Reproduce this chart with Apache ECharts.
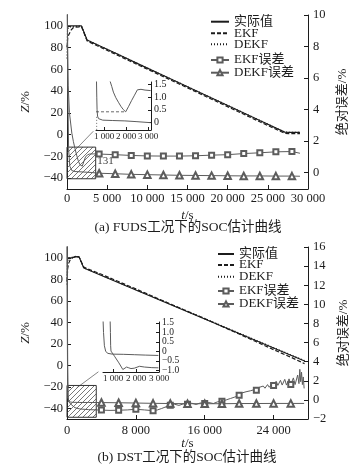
<!DOCTYPE html>
<html><head><meta charset="utf-8">
<script src="https://cdn.jsdelivr.net/npm/echarts@6/dist/echarts.min.js"></script>
<style>html,body{margin:0;padding:0;background:#fff}#c{width:360px;height:471px}</style>
</head><body><div id="c"></div>
<script>
// ===== (a) FUDS =====
const socT_a  = [0, 1800, 2500, 3700, 6000, 9000, 12000, 15000, 18000, 21000, 24000, 27100, 27600, 28300, 29000];
const soc_a   = [100, 100, 87.0, 82.9, 75.0, 64.6, 54.3, 44.0, 33.7, 23.4, 13.0, 2.3, 2.0, 2.1, 2.0];
const ekfT_a  = [0, 100, 300, 500, 800, 1800, 2500, 3700, 6000, 9000, 12000, 15000, 18000, 21000, 24000, 27100, 27600, 28300, 29000];
const ekf_a   = [80, 90, 93, 96, 98.5, 99.3, 86.2, 81.9, 74.0, 63.6, 53.3, 43.0, 32.6, 22.2, 11.8, 1.2, 0.9, 1.0, 0.9];
const dekfT_a = [0, 60, 200, 400, 1800, 2500, 3700, 6000, 9000, 12000, 15000, 18000, 21000, 24000, 27100, 27600, 28300, 29000];
const dekf_a  = [70, 95, 99, 99.8, 99.9, 87.0, 82.9, 75.1, 64.7, 54.4, 44.1, 33.8, 23.5, 13.1, 2.4, 2.1, 2.2, 2.1];
const ekfErrT_a = [0, 60, 150, 300, 600, 800, 1000, 1200, 1400, 1600, 1750, 1900, 2100, 2300, 2550, 2800, 3300, 4000, 6000, 8000, 10000, 12000, 14000, 16000, 18000, 20000, 22000, 24000, 26000, 28000, 29000];
const ekfErr_a  = [14, 9, 5.5, 3.8, 2.5, 1.95, 1.5, 1.1, 0.75, 0.5, 0.38, 0.4, 0.7, 0.98, 1.12, 1.17, 1.18, 1.17, 1.13, 1.08, 1.05, 1.04, 1.04, 1.06, 1.1, 1.13, 1.2, 1.25, 1.31, 1.33, 1.22];
const dekfErrT_a = [0, 80, 200, 350, 600, 1000, 2000, 3000, 4000, 6000, 8000, 10000, 12000, 14000, 16000, 18000, 20000, 22000, 24000, 26000, 28000, 29000];
const dekfErr_a  = [14, 6, 1.5, 0.4, 0.12, 0.06, 0.03, 0.0, -0.05, -0.08, -0.12, -0.14, -0.16, -0.18, -0.19, -0.2, -0.21, -0.22, -0.22, -0.23, -0.23, -0.24];
// inset (a)
const inEkfT_a  = [1252, 1353, 1426, 1536, 1655, 1765, 1875, 1985, 2122, 2250, 2388, 2516, 2681, 2865, 3121];
const inEkf_a   = [1.7, 1.42, 1.2, 0.98, 0.8, 0.64, 0.51, 0.42, 0.64, 0.86, 1.08, 1.29, 1.31, 1.28, 1.26];
const inDekfT_a = [657, 671, 685, 707, 749, 822, 941, 1399, 1949, 2498, 3121];
const inDekf_a  = [1.7, 1.0, 0.5, 0.25, 0.15, 0.1, 0.09, 0.075, 0.06, 0.03, -0.01];
const inGuideHT_a = [636, 1985], inGuideH_a = [0.42, 0.42];
const inGuideVT_a = [666, 666],  inGuideV_a = [0.22, -0.3];
const xTicks_a = [0, 5000, 10000, 15000, 20000, 25000, 30000];
const yTicksL = [-40, -20, 0, 20, 40, 60, 80, 100];
const yTicksR_a = [0, 2, 4, 6, 8, 10];
const inXTicks_a = [1000, 2000, 3000];
const inYTicks_a = [0, 0.5, 1.0, 1.5];
const hatchT_a = [0, 3570], hatchV_a = [1.61, -0.4];
const connT_a = [1370, 3280], connV_a = [1.61, 2.62];
const noteT_a = 3770, noteV_a = 0.72, noteText_a = '131';

// ===== (b) DST =====
const socT_b  = [0, 600, 1000, 1400, 1950, 4000, 8000, 12000, 16000, 20000, 24000, 27600];
const soc_b   = [100, 100, 101, 100.8, 90.4, 83.5, 70.0, 56.5, 43.0, 29.5, 16.0, 3.9];
const ekfT_b  = [0, 80, 200, 400, 700, 1000, 1400, 1950, 4000, 8000, 12000, 16000, 20000, 22000, 24000, 26000, 27600];
const ekf_b   = [78, 90, 95, 98.5, 100.2, 101, 100.8, 91.3, 84.6, 71.0, 57.0, 43.4, 29.0, 21.8, 14.5, 7.5, 1.5];
const dekfT_b = [0, 50, 150, 400, 1000, 1400, 1950, 4000, 8000, 12000, 16000, 20000, 24000, 27600];
const dekf_b  = [75, 95, 99.5, 100.2, 101.2, 101, 90.7, 83.8, 70.3, 56.9, 43.4, 29.9, 16.4, 4.3];
const ekfErrT_b = [0, 40, 80, 120, 200, 500, 930, 1500, 2500, 4000, 5000, 6000, 7000, 8000, 9000, 10000, 10500, 11000, 11500, 12000, 12500, 13000, 13500, 14000, 14500, 15000, 15500, 16000, 16500, 17000, 17500, 18000, 18500, 19000, 19500, 20000, 20300, 20500, 20800, 21000, 21300, 21500, 21800, 22000, 22300, 22500, 22800, 23000, 23300, 23500, 23800, 24000, 24300, 24500, 24800, 25000, 25300, 25500, 25800, 26000, 26300, 26500, 26800, 26950, 27050, 27150, 27250, 27350, 27450, 27550];
const ekfErr_b  = [20, 10, 4, 0.5, -0.2, -0.5, -0.82, -0.95, -1.02, -1.07, -1.1, -1.08, -1.05, -0.98, -1.05, -1.13, -1.05, -0.9, -0.72, -0.55, -0.45, -0.58, -0.42, -0.45, -0.35, -0.48, -0.32, -0.38, -0.28, -0.38, -0.2, -0.13, 0.0, 0.15, 0.3, 0.48, 0.72, 0.55, 0.85, 0.68, 0.95, 0.8, 1.08, 1.0, 1.3, 1.12, 1.45, 1.22, 1.6, 1.32, 1.72, 1.5, 1.95, 1.52, 2.05, 1.55, 2.15, 1.55, 2.2, 1.6, 2.3, 1.6, 2.6, 1.7, 3.2, 1.9, 2.9, 1.6, 2.4, 1.2];
const dekfErrT_b = [0, 30, 70, 120, 250, 600, 1500, 2500, 4000, 6000, 8000, 10000, 12000, 14000, 16000, 18000, 20000, 22000, 24000, 26000, 27550];
const dekfErr_b  = [20, 8, 2, 0.2, -0.2, -0.25, -0.27, -0.27, -0.28, -0.3, -0.33, -0.36, -0.38, -0.4, -0.4, -0.4, -0.38, -0.38, -0.37, -0.37, -0.37];
// inset (b)
const inEkfT_b  = [870, 884, 893, 908, 1061, 1252, 1424, 1501, 1587, 1683, 1778, 1922, 2151, 2371, 2687, 2974];
const inEkf_b   = [1.7, 1.0, 0.3, 0.02, -0.25, -0.6, -0.95, -0.9, -0.82, -0.86, -0.9, -0.88, -0.78, -0.82, -0.85, -0.86];
const inDekfT_b = [562, 583, 621, 678, 774, 965, 1443, 1922, 2400, 2974];
const inDekf_b  = [1.7, 1.0, 0.3, 0.0, -0.1, -0.14, -0.15, -0.17, -0.19, -0.21];
const xTicks_b = [0, 8000, 16000, 24000];
const yTicksR_b = [-2, 0, 2, 4, 6, 8, 10, 12, 14, 16];
const inXTicks_b = [1000, 2000, 3000];
const inYTicks_b = [-1.0, -0.5, 0, 0.5, 1.0, 1.5];
const hatchT_b = [0, 3400], hatchV_b = [1.51, -1.82];
const connT_b = [1130, 3650], connV_b = [1.26, 2.94];

const names = ['实际值', 'EKF', 'DEKF', 'EKF误差', 'DEKF误差'];
const titles = ['(a) FUDS工况下的SOC估计曲线', '(b) DST工况下的SOC估计曲线'];

// ===== rendering =====
const FONT = "'Liberation Serif','Noto Sans CJK SC',serif";
const INK = '#1c1c1c', GREY = '#5c5c5c';
const chart = echarts.init(document.getElementById('c'), null, {renderer: 'canvas'});
const pairs = (t, v) => t.map((x, i) => [x, v[i]]);
const marked = (t, v) => t.map((x, i) => (x >= 4000 && x % 2000 === 0) ? {value: [x, v[i]]} : {value: [x, v[i]], symbol: 'none'});
const minus = s => String(s).replace('-', '\u2212');
const thou = v => v >= 1000 ? Math.floor(v / 1000) + ' ' + String(v % 1000).padStart(3, '0') : String(v);
const dec = v => v === 0 ? '0' : minus(v.toFixed(1));
const lineS = {color: INK, width: 1};
const nameStyle = {fontSize: 13, fontFamily: FONT, color: INK, rich: {i: {fontStyle: 'italic', fontSize: 13, fontFamily: FONT, color: INK}}};

function xAx(grid, min, max, ticks, fs, margin, name, gap) {
  return {type: 'value', gridIndex: grid, min, max,
    axisLine: {show: true, onZero: false, lineStyle: lineS},
    axisTick: {show: true, inside: true, length: fs > 11 ? 4 : 3, customValues: ticks, lineStyle: lineS},
    axisLabel: {customValues: ticks, formatter: thou, fontSize: fs, fontFamily: FONT, color: INK, margin,
      hideOverlap: false, showMinLabel: true, showMaxLabel: true},
    splitLine: {show: false},
    name: name || '', nameLocation: 'middle', nameGap: gap || 0, nameTextStyle: nameStyle};
}
function yAx(grid, pos, min, max, ticks, fs, margin, fmt, name, gap) {
  return {type: 'value', gridIndex: grid, position: pos, min, max,
    axisLine: {show: true, onZero: false, lineStyle: lineS},
    axisTick: {show: true, inside: true, length: fs > 11 ? 4 : 3, customValues: ticks, lineStyle: lineS},
    axisLabel: {customValues: ticks, formatter: fmt, fontSize: fs, fontFamily: FONT, color: INK, margin,
      hideOverlap: false, showMinLabel: true, showMaxLabel: true},
    splitLine: {show: false},
    name: name || '', nameLocation: 'middle', nameGap: gap || 0, nameRotate: 90, nameTextStyle: nameStyle};
}

function hatchPattern() {
  const c = document.createElement('canvas');
  c.width = 5; c.height = 5;
  const g = c.getContext('2d');
  g.strokeStyle = '#555'; g.lineWidth = 0.8;
  g.beginPath();
  g.moveTo(0, 5); g.lineTo(5, 0);
  g.moveTo(-1, 1); g.lineTo(1, -1);
  g.moveTo(4, 6); g.lineTo(6, 4);
  g.stroke();
  return c;
}
const hatch = hatchPattern();

function socS(name, xi, yi, t, v, type) {
  return {name, type: 'line', xAxisIndex: xi, yAxisIndex: yi, data: pairs(t, v), symbol: 'none',
    lineStyle: {color: INK, width: 1.2, type}, itemStyle: {color: INK}, animation: false};
}
function errS(name, xi, yi, t, v, sym, hatchT, hatchV) {
  const s = {name, type: 'line', xAxisIndex: xi, yAxisIndex: yi, data: marked(t, v), symbol: sym,
    symbolSize: sym === 'emptyTriangle' ? 6.5 : 5, showSymbol: true,
    lineStyle: {color: GREY, width: 1}, itemStyle: {color: GREY, borderWidth: 0.8}, animation: false};
  if (hatchT) {
    s.markArea = {silent: true,
      itemStyle: {color: {image: hatch, repeat: 'repeat'}, borderColor: '#333', borderWidth: 1, opacity: 1},
      data: [[{coord: [hatchT[0], hatchV[0]]}, {coord: [hatchT[1], hatchV[1]]}]]};
  }
  return s;
}
function inS(xi, yi, t, v, type) {
  return {name: '_inset', type: 'line', xAxisIndex: xi, yAxisIndex: yi, data: pairs(t, v), symbol: 'none',
    lineStyle: {color: type === 'solid' ? GREY : '#444', width: type === 'solid' ? 1 : 0.8, type}, animation: false};
}

const legendRows = [[21.7, 33.3, 44.3, 60, 72.7], [254, 265, 276.7, 291, 304]];
const legendLeft = [210, 217], legendW = [18, 16];
const legends = [];
[0, 1].forEach(k => names.forEach((n, i) => legends.push({
  data: [i < 3 ? {name: n, itemStyle: {opacity: 0}} : {name: n}],
  left: legendLeft[k], top: legendRows[k][i] - 6.5, padding: 0,
  itemWidth: legendW[k], itemHeight: 6.5, selectedMode: false,
  textStyle: {fontSize: 13, fontFamily: FONT, color: INK, lineHeight: 13}
})));

const option = {
  animation: false,
  backgroundColor: '#fff',
  grid: [
    {left: 67, top: 15, width: 241, height: 174},
    {left: 96, top: 82, width: 55, height: 48},
    {left: 67, top: 247, width: 241, height: 172},
    {left: 103, top: 322, width: 56, height: 50}
  ],
  xAxis: [
    xAx(0, 0, 30000, xTicks_a, 12.5, 3, '{i|t}/s', 20),
    xAx(1, 636, 3136, inXTicks_a, 9, 2),
    xAx(2, 0, 28000, xTicks_b, 12.5, 5, '{i|t}/s', 15),
    xAx(3, 560, 3000, inXTicks_b, 9, 2)
  ],
  yAxis: [
    yAx(0, 'left', -50, 110, yTicksL, 12.5, 4, minus, '{i|Z}/%', 25),
    yAx(0, 'right', -1.05, 10, yTicksR_a, 12.5, 5, minus, '绝对误差/%', 22),
    yAx(1, 'right', -0.3, 1.6, inYTicks_a, 10, 3, dec),
    yAx(2, 'left', -50, 110, yTicksL, 12.5, 4, minus, '{i|Z}/%', 25),
    yAx(2, 'right', -2, 16, yTicksR_b, 12.5, 5, minus, '绝对误差/%', 22),
    yAx(3, 'right', -1.08, 1.55, inYTicks_b, 9.5, 3, dec)
  ],
  legend: legends,
  series: [
    socS(names[0], 0, 0, socT_a, soc_a, 'solid'),
    socS(names[1], 0, 0, ekfT_a, ekf_a, [4, 2]),
    socS(names[2], 0, 0, dekfT_a, dekf_a, [1, 2]),
    errS(names[3], 0, 1, ekfErrT_a, ekfErr_a, 'emptyRect', hatchT_a, hatchV_a),
    errS(names[4], 0, 1, dekfErrT_a, dekfErr_a, 'emptyTriangle'),
    inS(1, 2, inEkfT_a, inEkf_a, 'solid'),
    inS(1, 2, inDekfT_a, inDekf_a, 'solid'),
    inS(1, 2, inGuideHT_a, inGuideH_a, [3, 2]),
    inS(1, 2, inGuideVT_a, inGuideV_a, [1, 2]),
    socS(names[0], 2, 3, socT_b, soc_b, 'solid'),
    socS(names[1], 2, 3, ekfT_b, ekf_b, [4, 2]),
    socS(names[2], 2, 3, dekfT_b, dekf_b, [1, 2]),
    errS(names[3], 2, 4, ekfErrT_b, ekfErr_b, 'emptyRect', hatchT_b, hatchV_b),
    errS(names[4], 2, 4, dekfErrT_b, dekfErr_b, 'emptyTriangle'),
    inS(3, 5, inEkfT_b, inEkf_b, 'solid'),
    inS(3, 5, inDekfT_b, inDekf_b, 'solid')
  ]
};
chart.setOption(option);

const px = (xi, yi, pt) => chart.convertToPixel({xAxisIndex: xi, yAxisIndex: yi}, pt);
const a1 = px(0, 1, [connT_a[0], connV_a[0]]), a2 = px(0, 1, [connT_a[1], connV_a[1]]);
const b1 = px(2, 4, [connT_b[0], connV_b[0]]), b2 = px(2, 4, [connT_b[1], connV_b[1]]);
const nt = px(0, 1, [noteT_a, noteV_a]);
const ga = chart.getModel().getComponent('grid', 0).coordinateSystem.getRect();
const gb = chart.getModel().getComponent('grid', 2).coordinateSystem.getRect();
chart.setOption({graphic: [
  {type: 'line', silent: true, shape: {x1: a1[0], y1: a1[1], x2: a2[0], y2: a2[1]}, style: {stroke: '#666', lineWidth: 0.8}},
  {type: 'line', silent: true, shape: {x1: b1[0], y1: b1[1], x2: b2[0], y2: b2[1]}, style: {stroke: '#666', lineWidth: 0.8}},
  {type: 'text', silent: true, x: nt[0], y: nt[1], style: {text: noteText_a, fontSize: 11, fontFamily: FONT, fill: '#444', verticalAlign: 'middle'}},
  {type: 'text', silent: true, x: 188, y: ga.y + ga.height + 38, style: {text: titles[0], fontSize: 13.5, fontFamily: FONT, fill: INK, align: 'center', verticalAlign: 'middle'}},
  {type: 'text', silent: true, x: 187, y: gb.y + gb.height + 38, style: {text: titles[1], fontSize: 13.5, fontFamily: FONT, fill: INK, align: 'center', verticalAlign: 'middle'}}
]});
</script>
</body></html>
